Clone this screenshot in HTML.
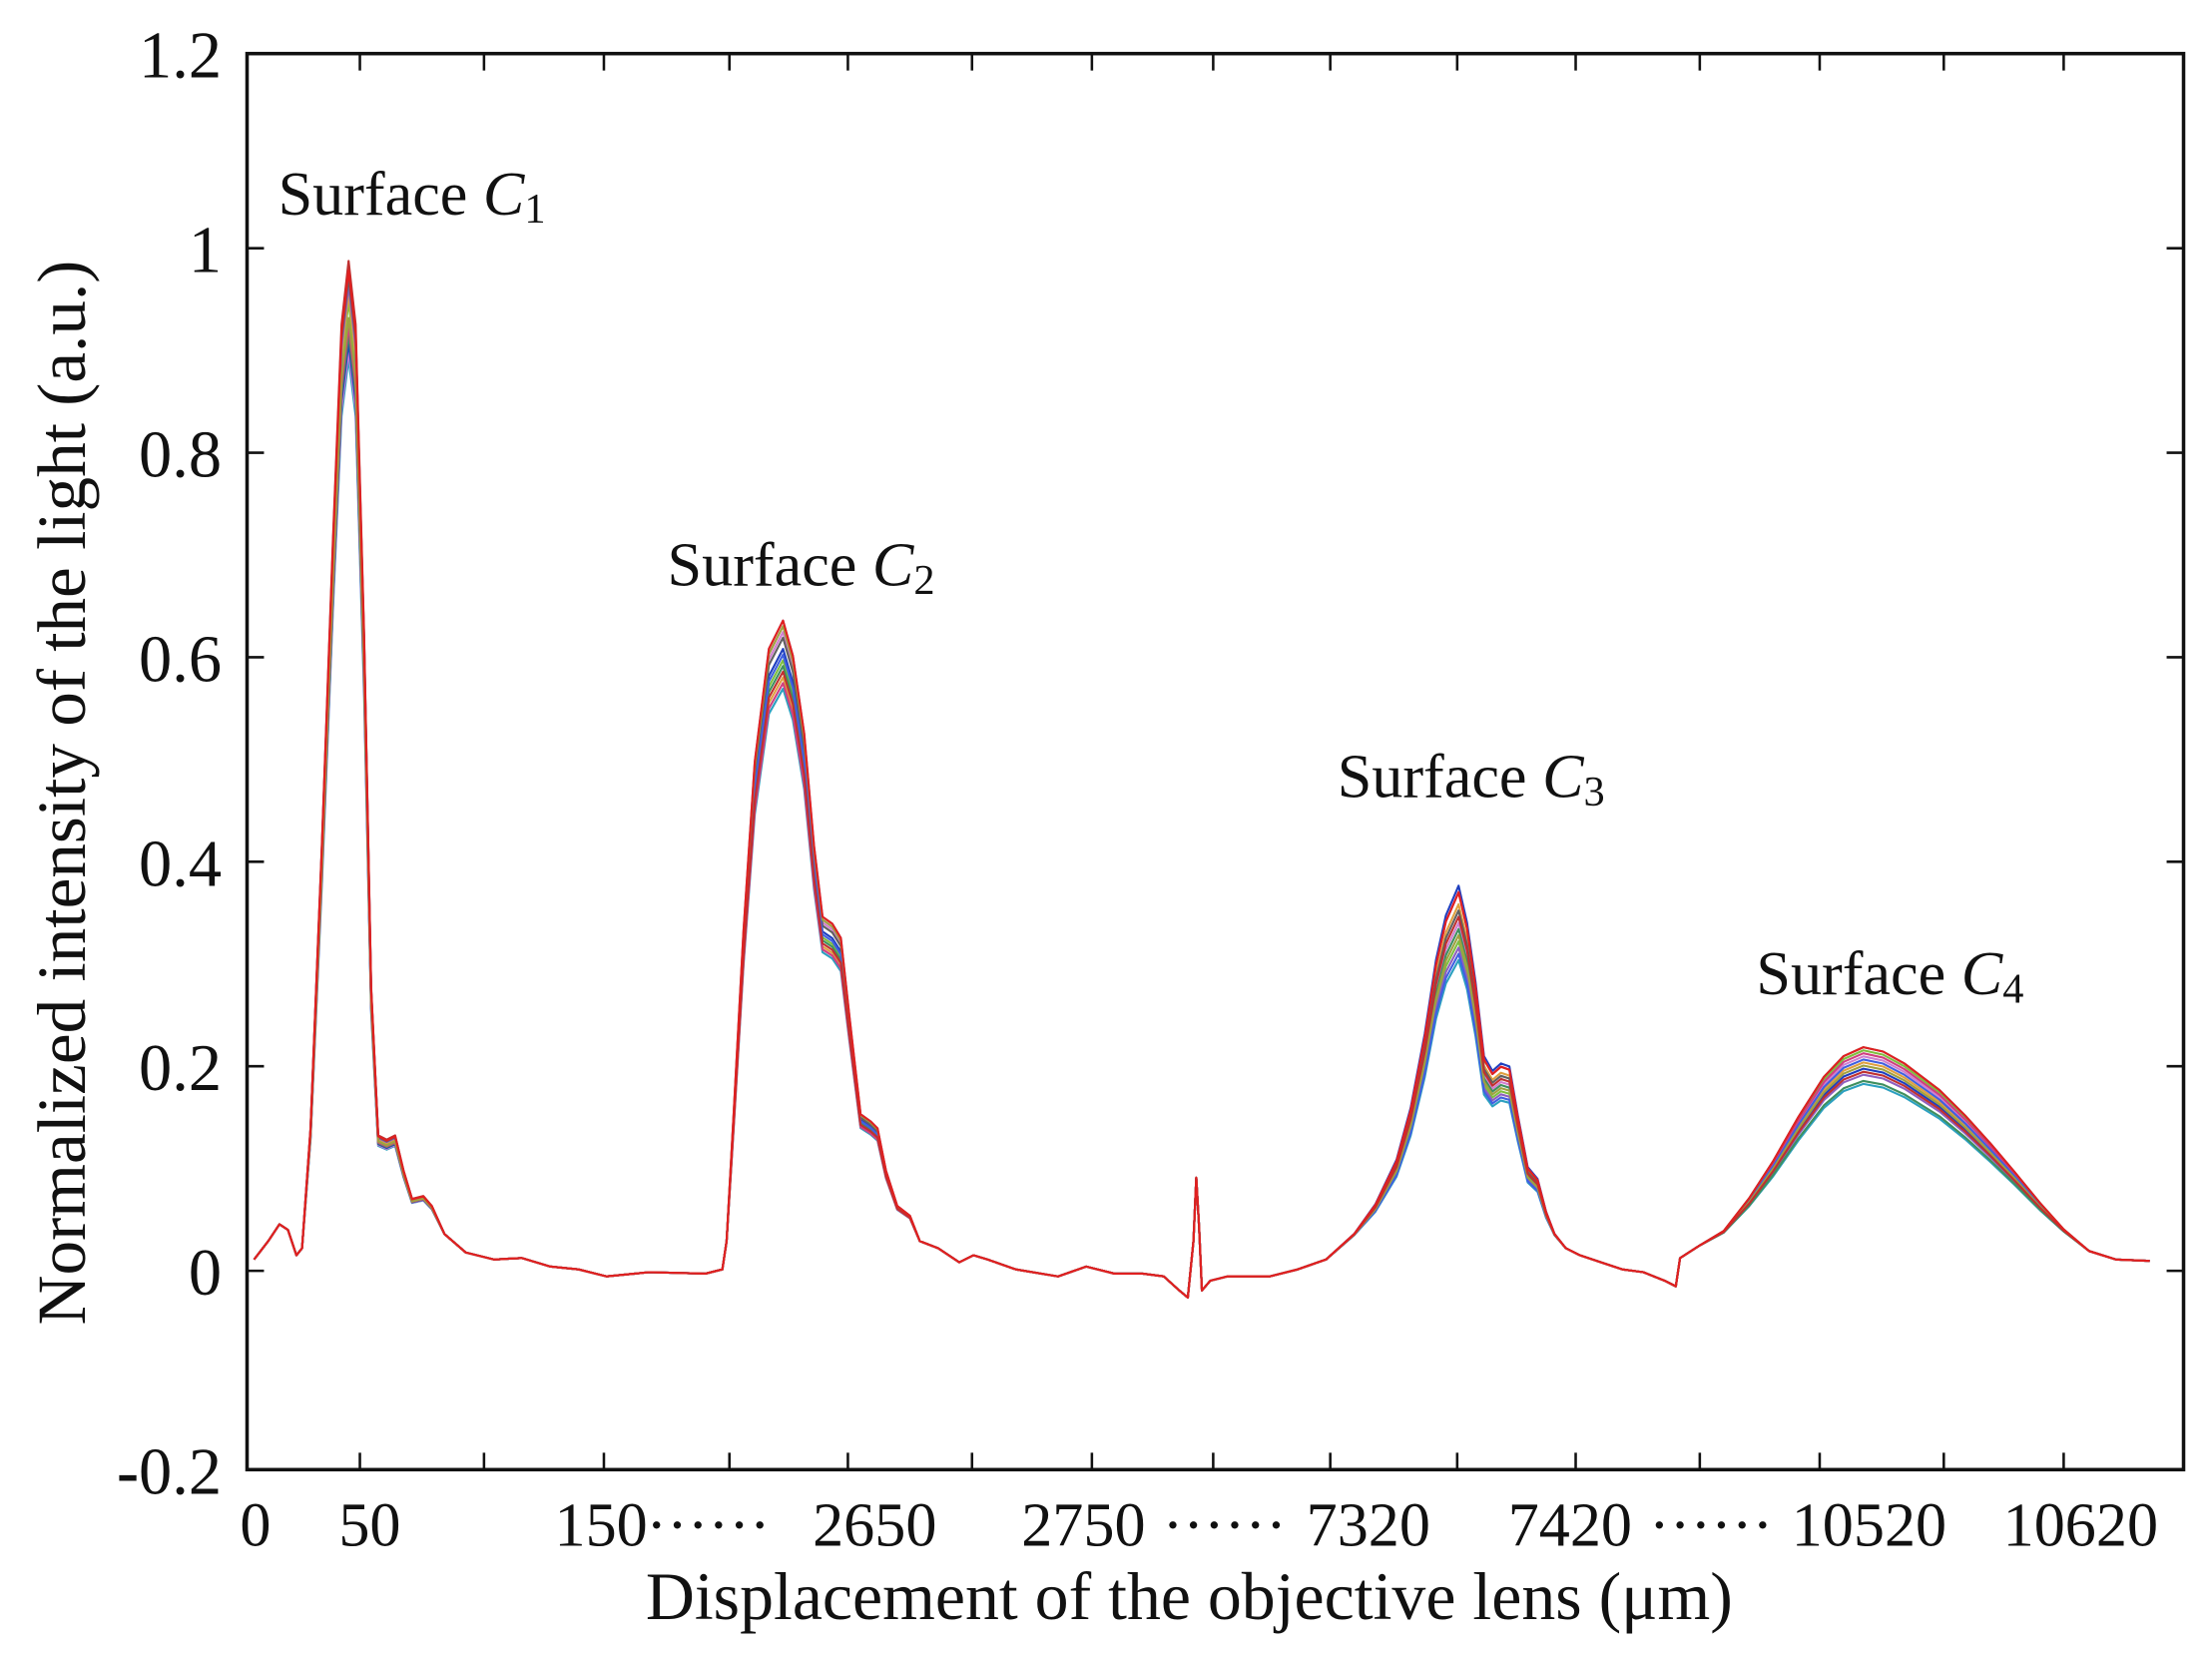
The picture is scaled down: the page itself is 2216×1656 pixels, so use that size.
<!DOCTYPE html>
<html><head><meta charset="utf-8"><style>
html,body{margin:0;padding:0;background:#fff;}
svg{display:block;}
text{font-family:"Liberation Serif",serif;fill:#111;}
</style></head><body>
<svg id="s" width="2216" height="1656" viewBox="0 0 1568 1172" xmlns="http://www.w3.org/2000/svg">
<g id="curves" fill="none" stroke-width="1.5" stroke-linejoin="round"></g>
<g stroke="#111" stroke-width="2.5" fill="none">
<rect x="175" y="38" width="1373" height="1004"/>
</g>
<g id="ticks" stroke="#111" stroke-width="1.8"></g>
<g font-size="47" text-anchor="end">
<text x="157" y="55">1.2</text>
<text x="157" y="193">1</text>
<text x="157" y="338">0.8</text>
<text x="157" y="483">0.6</text>
<text x="157" y="628">0.4</text>
<text x="157" y="773">0.2</text>
<text x="157" y="918">0</text>
<text x="157" y="1059"><tspan font-weight="bold">-</tspan>0.2</text>
</g>
<g font-size="44" text-anchor="middle">
<text x="181" y="1096">0</text>
<text x="262" y="1096">50</text>
<text x="426" y="1096">150</text>
<text x="502" y="1096">······</text>
<text x="620" y="1096">2650</text>
<text x="768" y="1096">2750</text>
<text x="868" y="1096">······</text>
<text x="970" y="1096">7320</text>
<text x="1113" y="1096">7420</text>
<text x="1213" y="1096">······</text>
<text x="1325" y="1096">10520</text>
<text x="1475" y="1096">10620</text>
</g>
<text x="843" y="1148" font-size="48" text-anchor="middle">Displacement of the objective lens (μm)</text>
<text transform="translate(60,562) rotate(-90)" font-size="49" text-anchor="middle">Normalized intensity of the light (a.u.)</text>
<g font-size="44">
<text x="197" y="152">Surface <tspan font-style="italic">C</tspan><tspan font-size="30" dy="6">1</tspan></text>
<text x="473" y="415">Surface <tspan font-style="italic">C</tspan><tspan font-size="30" dy="6">2</tspan></text>
<text x="948" y="565">Surface <tspan font-style="italic">C</tspan><tspan font-size="30" dy="6">3</tspan></text>
<text x="1245" y="705">Surface <tspan font-style="italic">C</tspan><tspan font-size="30" dy="6">4</tspan></text>
</g>
</svg>
<script>
(function(){
var NS="http://www.w3.org/2000/svg";
var tg=document.getElementById("ticks");
function ln(x1,y1,x2,y2){var l=document.createElementNS(NS,"line");l.setAttribute("x1",x1);l.setAttribute("y1",y1);l.setAttribute("x2",x2);l.setAttribute("y2",y2);tg.appendChild(l);}
[255,343,428,517,601,689,774,860,943,1033,1117,1205,1290,1378,1463].forEach(function(x){ln(x,1042,x,1030);ln(x,38,x,50);});
[176,321,466,611,756,901].forEach(function(y){ln(175,y,187,y);ln(1548,y,1536,y);});
function Y(v){return 901-v*725;}
var base=[[180,893],[190,880],[198,868],[204,872],[210,890],[214,885],[220,800],[228,600],[236,380],[242,230],[247,185],[252,230],[258,450],[263,700],[268,805],[274,808],[280,805],[286,830],[292,850],[300,848],[306,855],[315,875],[330,888],[350,893],[370,892],[390,898],[410,900],[430,905],[460,902],[500,903],[512,900],[515,880],[520,790],[527,660],[535,540],[545,460],[555,440],[562,465],[570,520],[577,600],[583,650],[590,655],[596,665],[602,720],[610,790],[617,795],[622,800],[628,830],[636,855],[645,862],[652,880],[665,885],[680,895],[690,890],[700,893],[720,900],[750,905],[770,898],[790,903],[810,903],[825,905],[836,915],[842,920],[846,880],[848,835],[850,870],[852,915],[858,908],[870,905],[900,905],[920,900],[940,893],[960,875],[975,855],[990,825],[1000,790],[1010,740],[1018,690],[1025,660],[1034,640],[1040,665],[1046,705],[1052,755],[1058,765],[1064,760],[1070,762],[1076,795],[1083,830],[1090,838],[1096,860],[1102,875],[1110,885],[1120,890],[1135,895],[1150,900],[1165,902],[1180,908],[1188,912],[1191,892],[1205,883],[1222,873],[1240,851],[1257,826],[1275,796],[1293,769],[1307,755],[1321,749],[1335,752],[1350,760],[1375,778],[1393,795],[1411,814],[1428,833],[1446,854],[1463,872],[1481,887],[1500,893],[1524,894]];
var cols=["#2ca0c0","#7fbf3f","#d07fd0","#e0a040","#1f3fbf","#8f5fbf","#3f8f5f","#606060","#d04080","#4060e0","#a0a040","#c03030","#e02020"];
var cg=document.getElementById("curves");
cols.forEach(function(c,i){
 var ks=[0.9+0.1*((i*7)%13)/12,0.89+0.11*((i*5)%13)/12,0.83+0.22*((i*3)%13)/12,0.85+0.2*((i*11)%13)/12];
 if(i==cols.length-1)ks=[0.99,1.0,1.03,1.05];
 var pts=base.map(function(p){var x=p[0],v=(901-p[1])/725,k=1;
  if(x>=214&&x<310)k=ks[0];else if(x>=515&&x<665)k=ks[1];else if(x>=940&&x<1125)k=ks[2];else if(x>=1195)k=ks[3];
  if(v>0.03)v=0.03+(v-0.03)*k;
  return x+","+Y(v).toFixed(1);});
 var pl=document.createElementNS(NS,"polyline");pl.setAttribute("points",pts.join(" "));pl.setAttribute("stroke",c);cg.appendChild(pl);
});
})();
</script>
</body></html>
